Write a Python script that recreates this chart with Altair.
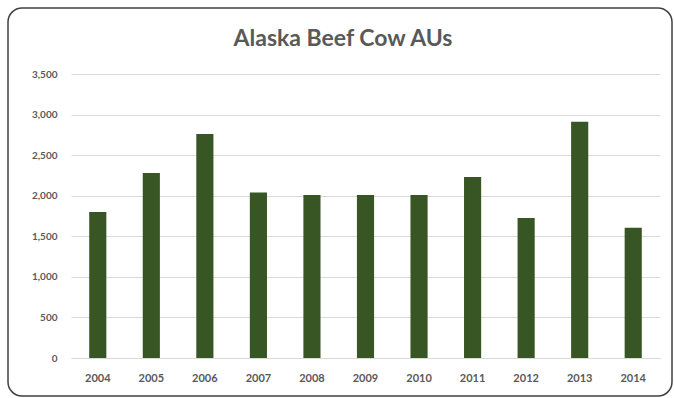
import altair as alt
import pandas as pd

years = ["2004", "2005", "2006", "2007", "2008", "2009", "2010", "2011", "2012", "2013", "2014"]
values = [1800, 2280, 2760, 2040, 2010, 2010, 2010, 2230, 1725, 2910, 1605]
y_ticks = [0, 500, 1000, 1500, 2000, 2500, 3000, 3500]

df = pd.DataFrame({"year": years, "value": values})

W, H = 589, 284

frame = alt.Chart(pd.DataFrame({"a": [0]})).mark_rect(
    fill=None, stroke="#404040", strokeWidth=1.5, cornerRadius=14
).encode(
    x=alt.value(-63), x2=alt.value(W + 12),
    y=alt.value(-66), y2=alt.value(H + 38)
)

title = alt.Chart(pd.DataFrame({"t": ["Alaska Beef Cow AUs"]})).mark_text(
    font="Lato", fontSize=23, fontWeight="bold", color="#595959",
    align="center", baseline="alphabetic"
).encode(
    text="t:N", x=alt.value(272), y=alt.value(-28)
)

bars = alt.Chart(df).mark_bar(color="#375623").encode(
    x=alt.X("year:N", sort=years, title=None,
            scale=alt.Scale(paddingInner=0.68, paddingOuter=0.34),
            axis=alt.Axis(labelAngle=0, ticks=False, domain=True, domainColor="#d9d9d9",
                          labelFont="Lato", labelFontSize=11, labelFontWeight="bold",
                          labelColor="#595959", labelPadding=14)),
    y=alt.Y("value:Q", title=None,
            scale=alt.Scale(domain=[0, 3500], nice=False),
            axis=alt.Axis(values=y_ticks, labelExpr="format(datum.value, ',.0f')",
                          ticks=False, domain=False,
                          gridColor="#d9d9d9", labelFont="Lato", labelFontSize=10,
                          labelFontWeight="bold", labelColor="#595959", labelPadding=14))
)

chart = alt.layer(frame, title, bars).properties(
    width=W, height=H,
    autosize=alt.AutoSizeParams(type="none"),
    padding={"left": 71, "top": 74, "right": 14, "bottom": 40},
).configure_view(stroke=None)

chart.save("out.html", embed_options={"renderer": "svg", "actions": False})
